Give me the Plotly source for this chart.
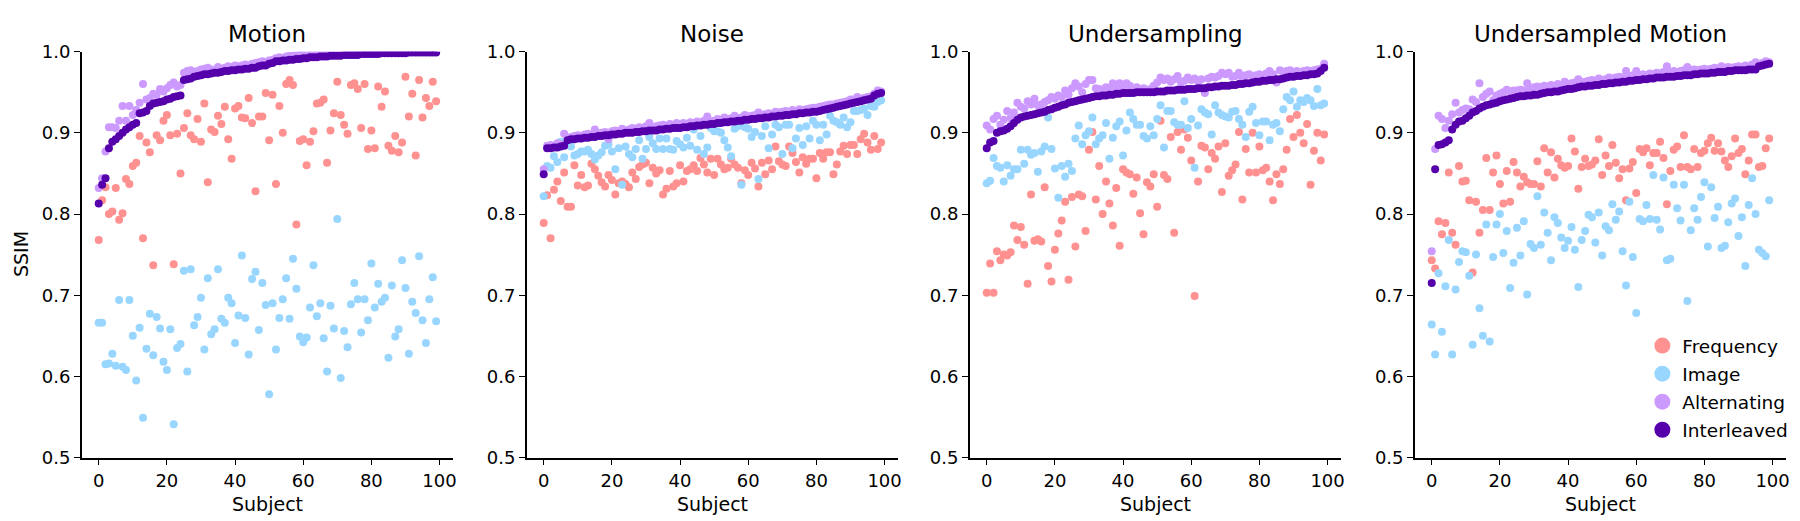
import plotly.graph_objects as go

subjects = list(range(100))
panel_titles = ["Motion", "Noise", "Undersampling", "Undersampled Motion"]
series_names = ["Frequency", "Image", "Alternating", "Interleaved"]
series_colors = ["#FF9191", "#99D6FF", "#CC99FF", "#5500AA"]
x_ticks = [0, 20, 40, 60, 80, 100]
y_ticks = [0.5, 0.6, 0.7, 0.8, 0.9, 1.0]

# ---------------- Motion ----------------
motion_frequency = [
    0.768, 0.817, 0.833, 0.800, 0.803, 0.832, 0.793, 0.801, 0.843, 0.837,
    0.859, 0.863, 0.896, 0.770, 0.888, 0.876, 0.737, 0.897, 0.891, 0.915,
    0.922, 0.897, 0.738, 0.899, 0.850, 0.906, 0.924, 0.897, 0.892, 0.917,
    0.889, 0.936, 0.839, 0.904, 0.901, 0.921, 0.911, 0.932, 0.892, 0.868,
    0.930, 0.933, 0.919, 0.918, 0.943, 0.912, 0.828, 0.920, 0.920, 0.949,
    0.891, 0.947, 0.837, 0.933, 0.900, 0.960, 0.965, 0.959, 0.787, 0.890,
    0.892, 0.860, 0.889, 0.902, 0.936, 0.937, 0.941, 0.863, 0.903, 0.924,
    0.963, 0.922, 0.910, 0.899, 0.959, 0.961, 0.954, 0.906, 0.960, 0.880,
    0.903, 0.881, 0.957, 0.932, 0.951, 0.884, 0.878, 0.896, 0.876, 0.888,
    0.969, 0.920, 0.948, 0.872, 0.965, 0.919, 0.943, 0.933, 0.963, 0.939]
motion_image = [
    0.666, 0.666, 0.615, 0.616, 0.628, 0.613, 0.694, 0.612, 0.608, 0.694,
    0.650, 0.595, 0.660, 0.549, 0.634, 0.677, 0.626, 0.673, 0.659, 0.618,
    0.608, 0.658, 0.541, 0.635, 0.640, 0.730, 0.606, 0.732, 0.663, 0.673,
    0.697, 0.633, 0.721, 0.652, 0.658, 0.732, 0.671, 0.666, 0.697, 0.690,
    0.641, 0.675, 0.749, 0.672, 0.627, 0.720, 0.729, 0.657, 0.715, 0.688,
    0.578, 0.690, 0.633, 0.672, 0.695, 0.721, 0.671, 0.745, 0.708, 0.649,
    0.642, 0.648, 0.685, 0.737, 0.674, 0.690, 0.647, 0.606, 0.687, 0.659,
    0.794, 0.598, 0.656, 0.636, 0.689, 0.715, 0.695, 0.654, 0.695, 0.669,
    0.739, 0.685, 0.714, 0.692, 0.697, 0.623, 0.712, 0.649, 0.658, 0.743,
    0.709, 0.628, 0.692, 0.678, 0.748, 0.669, 0.641, 0.695, 0.722, 0.668]
motion_alternating = [
    0.832, 0.844, 0.877, 0.907, 0.907, 0.906, 0.915, 0.933, 0.915, 0.933,
    0.922, 0.928, 0.937, 0.960, 0.941, 0.943, 0.948, 0.947, 0.954, 0.951,
    0.955, 0.959, 0.962, 0.957, 0.959, 0.974, 0.976, 0.977, 0.975, 0.976,
    0.978, 0.979, 0.980, 0.978, 0.977, 0.981, 0.979, 0.980, 0.982, 0.981,
    0.983, 0.982, 0.983, 0.984, 0.983, 0.985, 0.986, 0.987, 0.988, 0.987,
    0.989, 0.990, 0.992, 0.993, 0.992, 0.994, 0.995, 0.995, 0.998, 0.996,
    0.997, 0.997, 0.996, 0.997, 0.997, 0.998, 0.997, 0.998, 0.999, 0.998,
    0.998, 0.998, 0.999, 0.998, 0.999, 0.999, 0.999, 0.999, 0.999, 0.999,
    0.999, 0.999, 0.999, 1.000, 0.999, 1.000, 1.000, 0.999, 1.000, 1.000,
    1.000, 1.000, 1.000, 1.000, 1.000, 1.000, 1.000, 1.000, 1.000, 1.000]
motion_interleaved = [
    0.813, 0.836, 0.844, 0.881, 0.889, 0.892, 0.896, 0.900, 0.904, 0.907,
    0.910, 0.912, 0.924, 0.925, 0.927, 0.933, 0.936, 0.937, 0.938, 0.939,
    0.941, 0.942, 0.944, 0.945, 0.946, 0.965, 0.966, 0.967, 0.969, 0.970,
    0.971, 0.972, 0.972, 0.973, 0.974, 0.974, 0.975, 0.976, 0.976, 0.977,
    0.977, 0.978, 0.978, 0.979, 0.979, 0.980, 0.980, 0.982, 0.983, 0.983,
    0.985, 0.986, 0.988, 0.988, 0.989, 0.989, 0.990, 0.990, 0.991, 0.991,
    0.992, 0.992, 0.993, 0.993, 0.993, 0.994, 0.994, 0.994, 0.995, 0.995,
    0.995, 0.995, 0.996, 0.996, 0.996, 0.996, 0.996, 0.997, 0.997, 0.997,
    0.997, 0.997, 0.997, 0.998, 0.998, 0.998, 0.998, 0.998, 0.998, 0.998,
    0.998, 0.999, 0.999, 0.999, 0.999, 0.999, 0.999, 0.999, 0.999, 0.999]

# ---------------- Noise ----------------
noise_frequency = [
    0.789, 0.823, 0.770, 0.830, 0.840, 0.816, 0.851, 0.809, 0.809, 0.860,
    0.835, 0.848, 0.833, 0.835, 0.862, 0.855, 0.847, 0.839, 0.834, 0.848,
    0.842, 0.824, 0.838, 0.840, 0.837, 0.833, 0.851, 0.843, 0.858, 0.861,
    0.863, 0.838, 0.857, 0.850, 0.854, 0.824, 0.831, 0.853, 0.834, 0.838,
    0.860, 0.840, 0.853, 0.855, 0.860, 0.853, 0.869, 0.861, 0.851, 0.868,
    0.848, 0.868, 0.861, 0.855, 0.857, 0.868, 0.861, 0.857, 0.838, 0.854,
    0.848, 0.863, 0.856, 0.834, 0.863, 0.849, 0.866, 0.855, 0.883, 0.865,
    0.861, 0.859, 0.883, 0.875, 0.864, 0.851, 0.870, 0.862, 0.868, 0.868,
    0.844, 0.875, 0.868, 0.876, 0.876, 0.849, 0.861, 0.877, 0.884, 0.874,
    0.885, 0.885, 0.874, 0.892, 0.899, 0.888, 0.879, 0.896, 0.880, 0.888]
noise_image = [
    0.822, 0.859, 0.857, 0.871, 0.864, 0.889, 0.870, 0.891, 0.883, 0.872,
    0.874, 0.877, 0.877, 0.879, 0.874, 0.867, 0.872, 0.876, 0.884, 0.886,
    0.877, 0.855, 0.881, 0.836, 0.883, 0.874, 0.870, 0.880, 0.891, 0.868,
    0.880, 0.895, 0.887, 0.880, 0.893, 0.880, 0.893, 0.880, 0.879, 0.890,
    0.886, 0.882, 0.894, 0.884, 0.904, 0.879, 0.896, 0.874, 0.882, 0.906,
    0.902, 0.902, 0.900, 0.891, 0.882, 0.871, 0.905, 0.908, 0.836, 0.907,
    0.905, 0.895, 0.901, 0.843, 0.896, 0.908, 0.881, 0.898, 0.910, 0.907,
    0.874, 0.910, 0.910, 0.881, 0.893, 0.906, 0.885, 0.908, 0.893, 0.915,
    0.910, 0.891, 0.910, 0.898, 0.921, 0.915, 0.913, 0.910, 0.919, 0.907,
    0.913, 0.927, 0.927, 0.928, 0.930, 0.922, 0.933, 0.932, 0.938, 0.940]
noise_alternating = [
    0.855, 0.884, 0.885, 0.884, 0.887, 0.886, 0.899, 0.894, 0.895, 0.896,
    0.897, 0.896, 0.898, 0.899, 0.897, 0.904, 0.899, 0.900, 0.901, 0.892,
    0.902, 0.903, 0.902, 0.905, 0.903, 0.904, 0.906, 0.905, 0.907, 0.906,
    0.908, 0.912, 0.907, 0.908, 0.909, 0.910, 0.908, 0.911, 0.910, 0.912,
    0.910, 0.912, 0.911, 0.913, 0.912, 0.914, 0.913, 0.915, 0.920, 0.914,
    0.915, 0.917, 0.916, 0.919, 0.917, 0.918, 0.921, 0.918, 0.919, 0.922,
    0.920, 0.921, 0.922, 0.925, 0.922, 0.923, 0.924, 0.923, 0.926, 0.925,
    0.926, 0.927, 0.926, 0.928, 0.927, 0.929, 0.928, 0.929, 0.930, 0.931,
    0.931, 0.932, 0.933, 0.934, 0.935, 0.935, 0.936, 0.937, 0.938, 0.939,
    0.941, 0.941, 0.944, 0.942, 0.943, 0.944, 0.945, 0.948, 0.952, 0.951]
noise_interleaved = [
    0.849, 0.881, 0.881, 0.882, 0.882, 0.883, 0.884, 0.891, 0.892, 0.892,
    0.893, 0.893, 0.894, 0.894, 0.895, 0.895, 0.896, 0.896, 0.897, 0.897,
    0.898, 0.898, 0.899, 0.899, 0.900, 0.900, 0.900, 0.901, 0.901, 0.902,
    0.902, 0.903, 0.903, 0.903, 0.904, 0.904, 0.905, 0.905, 0.906, 0.906,
    0.906, 0.907, 0.907, 0.908, 0.908, 0.909, 0.909, 0.910, 0.910, 0.911,
    0.911, 0.912, 0.912, 0.913, 0.913, 0.914, 0.914, 0.915, 0.915, 0.916,
    0.916, 0.917, 0.917, 0.918, 0.918, 0.919, 0.919, 0.920, 0.920, 0.921,
    0.921, 0.922, 0.922, 0.923, 0.923, 0.924, 0.924, 0.925, 0.925, 0.926,
    0.926, 0.927, 0.928, 0.929, 0.930, 0.931, 0.932, 0.933, 0.934, 0.935,
    0.936, 0.937, 0.938, 0.939, 0.940, 0.941, 0.942, 0.946, 0.948, 0.949]

# ---------------- Undersampling ----------------
under_frequency = [
    0.703, 0.739, 0.703, 0.754, 0.743, 0.750, 0.749, 0.753, 0.786, 0.768,
    0.784, 0.762, 0.714, 0.824, 0.767, 0.769, 0.766, 0.833, 0.736, 0.717,
    0.756, 0.776, 0.792, 0.815, 0.719, 0.821, 0.760, 0.824, 0.822, 0.779,
    0.879, 0.901, 0.818, 0.859, 0.800, 0.840, 0.813, 0.786, 0.832, 0.761,
    0.855, 0.851, 0.849, 0.825, 0.845, 0.801, 0.775, 0.839, 0.834, 0.849,
    0.809, 0.915, 0.848, 0.843, 0.895, 0.777, 0.901, 0.879, 0.904, 0.894,
    0.866, 0.699, 0.840, 0.884, 0.882, 0.855, 0.875, 0.868, 0.883, 0.827,
    0.887, 0.847, 0.854, 0.861, 0.901, 0.818, 0.880, 0.851, 0.900, 0.851,
    0.883, 0.854, 0.857, 0.840, 0.817, 0.849, 0.837, 0.855, 0.879, 0.917,
    0.895, 0.922, 0.900, 0.887, 0.911, 0.836, 0.878, 0.900, 0.866, 0.898]
under_image = [
    0.838, 0.841, 0.869, 0.859, 0.857, 0.840, 0.860, 0.847, 0.855, 0.855,
    0.879, 0.862, 0.879, 0.873, 0.875, 0.852, 0.877, 0.883, 0.919, 0.880,
    0.856, 0.820, 0.859, 0.846, 0.862, 0.853, 0.893, 0.909, 0.886, 0.897,
    0.902, 0.919, 0.886, 0.893, 0.897, 0.912, 0.868, 0.894, 0.908, 0.914,
    0.872, 0.903, 0.925, 0.917, 0.910, 0.910, 0.896, 0.893, 0.908, 0.897,
    0.917, 0.934, 0.882, 0.927, 0.927, 0.913, 0.910, 0.910, 0.939, 0.906,
    0.917, 0.857, 0.909, 0.929, 0.925, 0.923, 0.898, 0.934, 0.925, 0.922,
    0.920, 0.919, 0.926, 0.927, 0.917, 0.910, 0.895, 0.926, 0.932, 0.912,
    0.897, 0.914, 0.914, 0.891, 0.910, 0.912, 0.902, 0.929, 0.944, 0.940,
    0.951, 0.932, 0.940, 0.938, 0.943, 0.940, 0.933, 0.954, 0.934, 0.936]
under_alternating = [
    0.909, 0.904, 0.917, 0.921, 0.910, 0.916, 0.927, 0.918, 0.925, 0.937,
    0.932, 0.930, 0.939, 0.935, 0.942, 0.934, 0.935, 0.938, 0.940, 0.944,
    0.942, 0.946, 0.944, 0.952, 0.947, 0.955, 0.961, 0.957, 0.950, 0.960,
    0.965, 0.965, 0.955, 0.954, 0.953, 0.956, 0.955, 0.961, 0.956, 0.961,
    0.957, 0.961, 0.958, 0.953, 0.956, 0.953, 0.955, 0.953, 0.954, 0.958,
    0.962, 0.968, 0.965, 0.967, 0.963, 0.966, 0.970, 0.962, 0.964, 0.968,
    0.965, 0.967, 0.963, 0.966, 0.949, 0.967, 0.969, 0.968, 0.970, 0.974,
    0.972, 0.974, 0.969, 0.970, 0.974, 0.968, 0.971, 0.972, 0.970, 0.971,
    0.972, 0.970, 0.973, 0.976, 0.972, 0.962, 0.977, 0.975, 0.976, 0.977,
    0.975, 0.976, 0.975, 0.976, 0.977, 0.976, 0.977, 0.978, 0.979, 0.985]
under_interleaved = [
    0.881, 0.888, 0.890, 0.900, 0.902, 0.903, 0.905, 0.908, 0.912, 0.916,
    0.919, 0.920, 0.921, 0.922, 0.923, 0.924, 0.925, 0.926, 0.928, 0.929,
    0.931, 0.932, 0.934, 0.935, 0.937, 0.938, 0.939, 0.940, 0.941, 0.942,
    0.943, 0.944, 0.945, 0.945, 0.946, 0.946, 0.947, 0.947, 0.948, 0.948,
    0.949, 0.949, 0.949, 0.949, 0.950, 0.950, 0.950, 0.950, 0.950, 0.950,
    0.951, 0.951, 0.951, 0.952, 0.952, 0.952, 0.953, 0.953, 0.953, 0.954,
    0.954, 0.954, 0.955, 0.955, 0.955, 0.956, 0.956, 0.957, 0.957, 0.958,
    0.958, 0.958, 0.959, 0.959, 0.960, 0.960, 0.961, 0.961, 0.962, 0.963,
    0.963, 0.964, 0.964, 0.965, 0.965, 0.966, 0.966, 0.967, 0.968, 0.969,
    0.969, 0.970, 0.970, 0.971, 0.971, 0.972, 0.972, 0.973, 0.976, 0.980]

# ---------------- Undersampled Motion ----------------
um_frequency = [
    0.743, 0.733, 0.791, 0.775, 0.789, 0.851, 0.777, 0.762, 0.859, 0.840,
    0.841, 0.817, 0.728, 0.815, 0.777, 0.805, 0.869, 0.805, 0.851, 0.872,
    0.837, 0.813, 0.853, 0.815, 0.864, 0.851, 0.834, 0.846, 0.839, 0.837,
    0.837, 0.865, 0.834, 0.881, 0.851, 0.876, 0.845, 0.868, 0.860, 0.857,
    0.859, 0.893, 0.877, 0.831, 0.858, 0.868, 0.859, 0.861, 0.866, 0.892,
    0.848, 0.872, 0.859, 0.885, 0.863, 0.844, 0.855, 0.817, 0.856, 0.864,
    0.826, 0.880, 0.876, 0.881, 0.860, 0.875, 0.875, 0.889, 0.869, 0.812,
    0.853, 0.879, 0.883, 0.858, 0.897, 0.858, 0.855, 0.880, 0.858, 0.875,
    0.878, 0.887, 0.894, 0.878, 0.887, 0.877, 0.866, 0.858, 0.871, 0.893,
    0.875, 0.880, 0.849, 0.866, 0.898, 0.898, 0.858, 0.859, 0.881, 0.893]
um_image = [
    0.664, 0.627, 0.727, 0.655, 0.711, 0.768, 0.627, 0.707, 0.741, 0.754,
    0.753, 0.724, 0.639, 0.750, 0.684, 0.650, 0.787, 0.643, 0.747, 0.787,
    0.800, 0.752, 0.779, 0.709, 0.740, 0.783, 0.749, 0.791, 0.701, 0.763,
    0.758, 0.822, 0.762, 0.802, 0.777, 0.743, 0.796, 0.789, 0.771, 0.758,
    0.767, 0.784, 0.756, 0.710, 0.768, 0.779, 0.799, 0.796, 0.765, 0.802,
    0.749, 0.785, 0.780, 0.812, 0.793, 0.803, 0.754, 0.712, 0.815, 0.747,
    0.678, 0.794, 0.791, 0.811, 0.794, 0.848, 0.793, 0.781, 0.845, 0.743,
    0.745, 0.836, 0.807, 0.792, 0.836, 0.693, 0.780, 0.807, 0.793, 0.821,
    0.839, 0.760, 0.833, 0.795, 0.809, 0.758, 0.761, 0.790, 0.813, 0.819,
    0.773, 0.796, 0.736, 0.811, 0.844, 0.800, 0.756, 0.752, 0.748, 0.817]
um_alternating = [
    0.754, 0.880, 0.921, 0.917, 0.906, 0.915, 0.923, 0.937, 0.925, 0.928,
    0.930, 0.929, 0.941, 0.938, 0.961, 0.944, 0.948, 0.951, 0.940, 0.946,
    0.948, 0.950, 0.953, 0.951, 0.952, 0.952, 0.953, 0.952, 0.961, 0.955,
    0.956, 0.957, 0.956, 0.958, 0.957, 0.959, 0.958, 0.960, 0.959, 0.963,
    0.960, 0.961, 0.962, 0.966, 0.962, 0.963, 0.964, 0.965, 0.964, 0.967,
    0.965, 0.966, 0.968, 0.967, 0.968, 0.969, 0.968, 0.976, 0.970, 0.971,
    0.976, 0.971, 0.972, 0.971, 0.973, 0.972, 0.974, 0.973, 0.975, 0.982,
    0.975, 0.976, 0.975, 0.976, 0.977, 0.981, 0.977, 0.978, 0.977, 0.978,
    0.979, 0.978, 0.979, 0.980, 0.979, 0.982, 0.980, 0.981, 0.980, 0.981,
    0.982, 0.981, 0.983, 0.982, 0.984, 0.987, 0.985, 0.986, 0.988, 0.987]
um_interleaved = [
    0.715, 0.855, 0.885, 0.886, 0.888, 0.891, 0.904, 0.910, 0.914, 0.915,
    0.918, 0.921, 0.925, 0.927, 0.930, 0.932, 0.934, 0.935, 0.936, 0.937,
    0.939, 0.940, 0.941, 0.942, 0.943, 0.944, 0.945, 0.945, 0.946, 0.946,
    0.947, 0.947, 0.948, 0.949, 0.950, 0.950, 0.951, 0.951, 0.952, 0.953,
    0.954, 0.954, 0.955, 0.956, 0.957, 0.957, 0.958, 0.958, 0.959, 0.959,
    0.960, 0.960, 0.961, 0.961, 0.962, 0.962, 0.963, 0.963, 0.964, 0.964,
    0.965, 0.965, 0.966, 0.966, 0.967, 0.967, 0.968, 0.968, 0.968, 0.969,
    0.969, 0.969, 0.970, 0.970, 0.971, 0.971, 0.971, 0.972, 0.972, 0.973,
    0.973, 0.973, 0.974, 0.974, 0.975, 0.975, 0.975, 0.976, 0.976, 0.977,
    0.977, 0.977, 0.977, 0.978, 0.978, 0.978, 0.982, 0.983, 0.984, 0.985]

panels = [
    [motion_frequency, motion_image, motion_alternating, motion_interleaved],
    [noise_frequency, noise_image, noise_alternating, noise_interleaved],
    [under_frequency, under_image, under_alternating, under_interleaved],
    [um_frequency, um_image, um_alternating, um_interleaved],
]

W, H = 1800, 521
FONT = "DejaVu Sans"
px_domains = [(74, 446), (520, 892), (964, 1336), (1410, 1782)]
y_top_px, y_bot_px = 34, 457
y_domain = [1 - y_bot_px / H, 1 - y_top_px / H]

fig = go.Figure()
annotations = []
for i, (title, series) in enumerate(zip(panel_titles, panels)):
    sfx = "" if i == 0 else str(i + 1)
    for j, (name, vals) in enumerate(zip(series_names, series)):
        fig.add_trace(go.Scatter(
            x=subjects, y=vals, mode="markers", name=name,
            marker=dict(color=series_colors[j], size=8, line=dict(width=0)),
            showlegend=False, legendgroup=name,
            xaxis="x" + sfx, yaxis="y" + sfx,
        ))
    d0, d1 = px_domains[i]
    axis_common = dict(showline=True, linecolor="black", linewidth=1.5,
                       ticks="outside", ticklen=6, tickwidth=1.3, tickcolor="black",
                       showgrid=False, zeroline=False,
                       tickfont=dict(family=FONT, size=18, color="black"))
    fig.layout["xaxis" + sfx] = dict(domain=[d0 / W, d1 / W], anchor="y" + sfx,
                                     range=[-4.95, 103.95], tickvals=x_ticks, **axis_common)
    fig.layout["yaxis" + sfx] = dict(domain=y_domain, anchor="x" + sfx,
                                     range=[0.5, 1.0], tickvals=y_ticks, tickformat=".1f",
                                     **axis_common)
    cx = (d0 + d1) / 2 / W
    annotations.append(dict(text=title, x=cx, y=1 - 16 / H, xref="paper", yref="paper",
                            xanchor="center", yanchor="middle", showarrow=False,
                            font=dict(family=FONT, size=23, color="black")))
    annotations.append(dict(text="Subject", x=cx, y=1 - 505 / H, xref="paper", yref="paper",
                            xanchor="center", yanchor="middle", showarrow=False,
                            font=dict(family=FONT, size=19, color="black")))

# legend entries (larger legend markers, as in the reference)
for j, name in enumerate(series_names):
    fig.add_trace(go.Scatter(
        x=[None], y=[None], mode="markers", name=name, legendgroup=name,
        marker=dict(color=series_colors[j], size=20, line=dict(width=0)),
        showlegend=True, xaxis="x4", yaxis="y4",
    ))

annotations.append(dict(text="SSIM", x=13 / W, y=1 - 245 / H, xref="paper", yref="paper",
                        xanchor="center", yanchor="middle", showarrow=False, textangle=-90,
                        font=dict(family=FONT, size=19, color="black")))

fig.update_layout(
    width=W, height=H,
    margin=dict(l=0, r=0, t=0, b=0),
    paper_bgcolor="white", plot_bgcolor="white",
    annotations=annotations,
    legend=dict(x=1638 / W, y=1 - 321 / H, xanchor="left", yanchor="top",
                bgcolor="rgba(0,0,0,0)", borderwidth=0,
                font=dict(family=FONT, size=18.5, color="black"),
                itemsizing="trace", traceorder="grouped", tracegroupgap=1),
)

fig.write_html("out.html")
